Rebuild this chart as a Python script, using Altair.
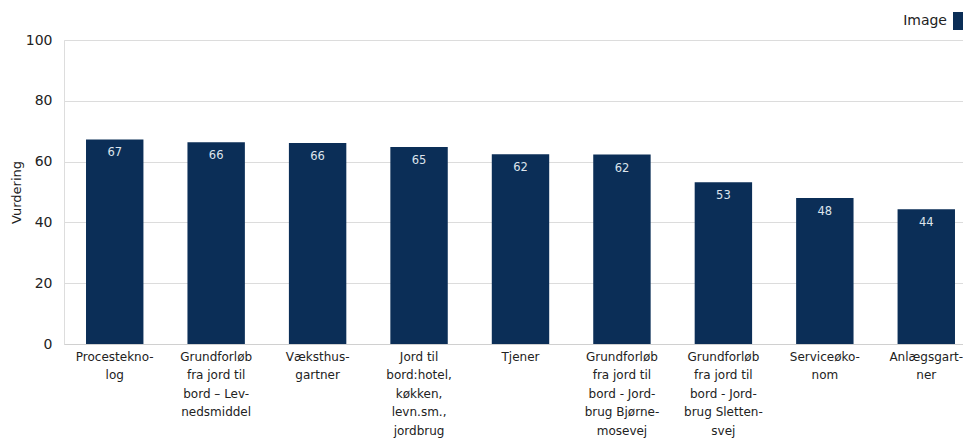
import altair as alt
import pandas as pd

categories = [
    "Procestekno-\nlog",
    "Grundforløb\nfra jord til\nbord – Lev-\nnedsmiddel",
    "Væksthus-\ngartner",
    "Jord til\nbord:hotel,\nkøkken,\nlevn.sm.,\njordbrug",
    "Tjener",
    "Grundforløb\nfra jord til\nbord - Jord-\nbrug Bjørne-\nmosevej",
    "Grundforløb\nfra jord til\nbord - Jord-\nbrug Sletten-\nsvej",
    "Serviceøko-\nnom",
    "Anlægsgart-\nner",
]
values = [67.3, 66.4, 66.1, 64.8, 62.4, 62.3, 53.2, 48.0, 44.3]
series = ["Image"] * len(categories)

df = pd.DataFrame({"kategori": categories, "vurdering": values, "serie": series})
legend_df = pd.DataFrame({"serie": ["Image"]})

FONT = "DejaVu Sans"
BAR = "#0b2e57"
color_scale = alt.Scale(domain=["Image"], range=[BAR])

x = alt.X(
    "kategori:N",
    sort=None,
    title=None,
    scale=alt.Scale(paddingInner=0.434, paddingOuter=0.217),
    axis=alt.Axis(
        labelAngle=0,
        labelExpr="split(datum.label, '\\n')",
        labelFont=FONT,
        labelFontSize=12,
        labelColor="#222",
        labelLineHeight=18.5,
        labelPadding=7,
        labelBaseline="top",
        ticks=False,
        domain=True,
        domainColor="#d0d0d0",
        labelLimit=200,
    ),
)

bars = alt.Chart(df).mark_bar().encode(
    x=x,
    y=alt.Y(
        "vurdering:Q",
        title="Vurdering",
        scale=alt.Scale(domain=[0, 100], nice=False),
        axis=alt.Axis(
            values=[0, 20, 40, 60, 80, 100],
            labelFont=FONT,
            labelFontSize=14,
            labelColor="#222",
            labelPadding=12,
            ticks=False,
            domain=False,
            grid=True,
            gridColor="#dcdcdc",
            titleFont=FONT,
            titleFontSize=13,
            titleFontWeight="normal",
            titleColor="#222",
            titlePadding=2,
        ),
    ),
    color=alt.Color("serie:N", scale=color_scale, legend=None),
)

text = alt.Chart(df).mark_text(
    baseline="top", dy=8, font=FONT, fontSize=11.5, color="#dde4ec"
).encode(
    x=alt.X("kategori:N", sort=None),
    y="vurdering:Q",
    text=alt.Text("vurdering:Q", format=".0f"),
)

legend_text = alt.Chart(legend_df).mark_text(
    align="right", baseline="middle", font=FONT, fontSize=14, color="#222"
).encode(
    x=alt.value(883),
    y=alt.value(-19),
    text="serie:N",
)

legend_rect = alt.Chart(legend_df).mark_rect().encode(
    x=alt.value(889),
    x2=alt.value(899),
    y=alt.value(-28),
    y2=alt.value(-10),
    color=alt.Color("serie:N", scale=color_scale, legend=None),
)

chart = (
    alt.layer(bars, text, legend_text, legend_rect)
    .properties(
        width=913,
        height=304,
        autosize=alt.AutoSizeParams(type="none"),
        padding={"left": 56, "top": 32, "right": -14, "bottom": 96},
    )
    .configure_view(stroke=None)
    .configure(background="white")
)

chart.save("out.html", embed_options={"renderer": "svg", "actions": False})
